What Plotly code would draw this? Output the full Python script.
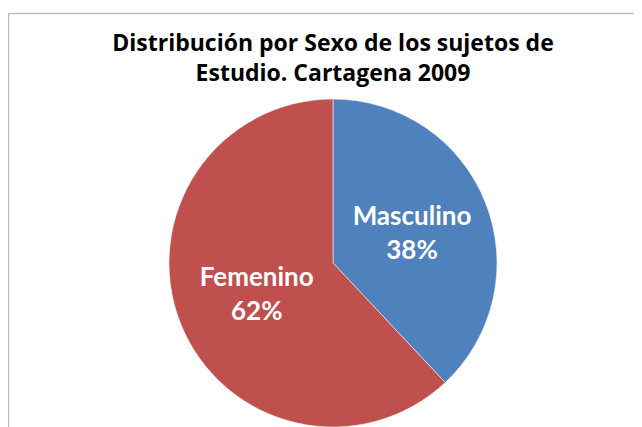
import plotly.graph_objects as go

labels = ["Masculino", "Femenino"]
values = [38, 62]
colors = ["#4F81BD", "#C0504D"]

W, H = 642, 427
OFF = 8  # page body margin offset
cx, cy, r = 333 - OFF, 263 - OFF, 164

fig = go.Figure(go.Pie(
    labels=labels,
    values=values,
    sort=False,
    direction="clockwise",
    rotation=0,
    marker=dict(colors=colors, line=dict(color="#f2f2f2", width=0.6)),
    texttemplate="%{label}<br>%{percent:.0%}",
    textposition="inside",
    insidetextorientation="horizontal",
    textfont=dict(family="Lato", size=26, color="white", weight="bold"),
    showlegend=False,
    hoverinfo="label+percent",
    domain=dict(x=[(cx - r) / W, (cx + r) / W], y=[(H - cy - r) / H, (H - cy + r) / H]),
))

fig.update_layout(
    width=W, height=H,
    margin=dict(l=0, r=0, t=0, b=0),
    paper_bgcolor="white",
    title=dict(
        text="Distribución por Sexo de los sujetos de<br>Estudio. Cartagena 2009",
        x=cx / W, xanchor="center",
        y=1 - (51 - OFF) / H, yanchor="middle",
        font=dict(family="Open Sans", size=23, color="black", weight="bold"),
    ),
    shapes=[dict(
        type="rect", xref="paper", yref="paper",
        x0=(8.5 - OFF) / W, x1=1.05, y0=-0.05, y1=1 - (13.5 - OFF) / H,
        line=dict(color="#bfbfbf", width=1.5),
        fillcolor="rgba(0,0,0,0)", layer="below",
    )],
)

fig.write_html("out.html")
